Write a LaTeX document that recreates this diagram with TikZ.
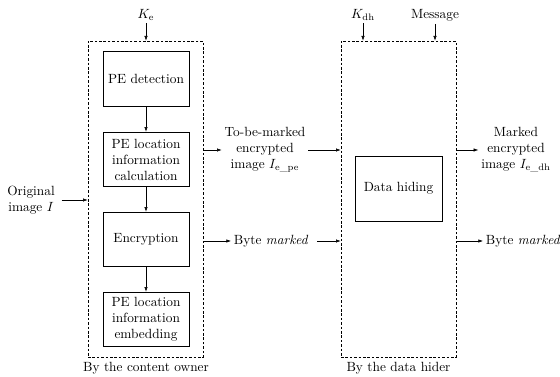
\documentclass[tikz,border=0pt]{standalone}
\usepackage{amsmath,amssymb}
\usepackage{tikz}
\usetikzlibrary{arrows.meta}

\begin{document}
\begin{tikzpicture}[x=0.75pt, y=-0.75pt,
        stepbox/.style={draw, line width=0.6pt, minimum width=64.5pt, minimum height=41pt, align=center, inner sep=1pt},
        party/.style={draw, line width=0.5pt, dash pattern=on 2pt off 1.3pt, minimum width=86.25pt, minimum height=237pt},
        lbl/.style={align=center, inner sep=2pt},
        arr/.style={-{Latex[length=3.5pt,width=2.5pt]}, line width=0.4pt}]
        \useasboundingbox (0, 0) rectangle (560, 377);

        % the two parties
        \node[party] (owner) at (145.5, 199) {};
        \node[party] (hider) at (398.5, 199) {};

        % steps of the content owner
        \node[stepbox] (detect) at (146, 79) {PE detection};
        \node[stepbox] (calc) at (146, 159.5) {PE location\\information\\calculation};
        \node[stepbox] (encrypt) at (146, 239.5) {Encryption};
        \node[stepbox] (embed) at (146, 319.5) {PE location\\information\\embedding};
        \node[stepbox, minimum width=65.25pt, minimum height=48.75pt] (hide) at (398.5, 188.5) {Data hiding};

        \draw[arr] (detect) -- (calc);
        \draw[arr] (calc) -- (encrypt);
        \draw[arr] (encrypt) -- (embed);

        % keys and inputs
        \node[lbl] (Ke) at (146, 15) {$K_{\mathrm{e}}$};
        \node[lbl] (Kdh) at (363, 15) {$K_{\mathrm{dh}}$};
        \node[lbl] (msg) at (435, 15) {Message};
        \node[lbl] (orig) at (31, 200) {Original\\image $I$};

        \draw[arr] (Ke.south) -- (owner.north -| Ke.south);
        \draw[arr] (Kdh.south) -- (hider.north -| Kdh.south);
        \draw[arr] (msg.south) -- (hider.north -| msg.south);
        \draw[arr] (orig.east) ++(4, 0) coordinate (o1) (o1) -- (owner.west |- o1);

        % between the parties
        \node[lbl] (tbm) at (265, 150) {To-be-marked\\encrypted\\image $I_{\mathrm{e\_pe}}$};
        \node[lbl, anchor=west] (byte) at (231, 241) {Byte \textit{marked}};
        \draw[arr] (owner.east |- tbm) -- (tbm.west);
        \draw[arr] (tbm.east) -- (hider.west |- tbm);
        \draw[arr] (owner.east |- byte) -- (byte.west);
        \draw[arr] (byte.east) ++(6, 0) coordinate (b1) (b1) -- (hider.west |- byte);

        % outputs
        \node[lbl] (marked) at (516, 150) {Marked\\encrypted\\image $I_{\mathrm{e\_dh}}$};
        \node[lbl, anchor=west] (byte2) at (483, 241) {Byte \textit{marked}};
        \draw[arr] (hider.east |- marked) -- (marked.west);
        \draw[arr] (hider.east |- byte2) -- (byte2.west);

        \node[lbl] (ownerlbl) at (146, 368) {By the content owner};
        \node[lbl] (hiderlbl) at (398.5, 368) {By the data hider};
    \end{tikzpicture}
\end{document}
